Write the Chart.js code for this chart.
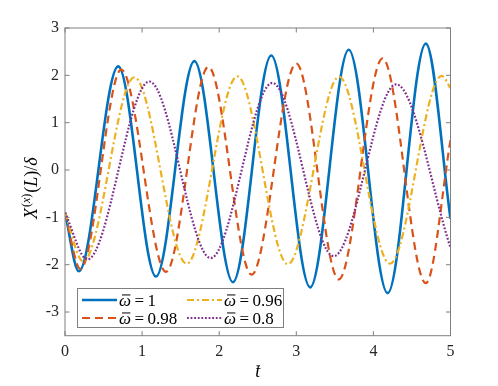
<!DOCTYPE html>
<html>
<head>
<meta charset="utf-8">
<script src="https://cdn.jsdelivr.net/npm/chart.js@4.4.1/dist/chart.umd.min.js"></script>
<style>
  html, body { margin: 0; padding: 0; background: #fff; }
</style>
</head>
<body>
<canvas id="chart" width="498" height="386"></canvas>
<script>
// values: start point, each peak / trough, end point
const tW100 = [0, 0.18, 0.69, 1.18, 1.678, 2.178, 2.675, 3.18, 3.68, 4.185, 4.68, 5];
const yW100 = [-0.9, -2.14, 2.19, -2.25, 2.30, -2.37, 2.42, -2.48, 2.54, -2.60, 2.67, -1.03];

const tW098 = [0, 0.2, 0.73, 1.31, 1.86, 2.42, 3.0, 3.55, 4.12, 4.68, 5];
const yW098 = [-0.9, -2.09, 2.12, -2.15, 2.18, -2.21, 2.25, -2.31, 2.36, -2.39, 0.63];

const tW096 = [0, 0.235, 0.9, 1.578, 2.235, 2.89, 3.555, 4.215, 4.885, 5];
const yW096 = [-0.9, -1.93, 1.96, -1.98, 1.98, -1.99, 1.97, -1.98, 1.99, 1.73];

const tW080 = [0, 0.29, 1.094, 1.89, 2.69, 3.485, 4.295, 5];
const yW080 = [-0.9, -1.89, 1.87, -1.86, 1.84, -1.82, 1.81, -1.64];

const omegaLabels = ['1', '0.98', '0.96', '0.8'];
const xTicks = [0, 1, 2, 3, 4, 5];
const yTicks = [-3, -2, -1, 0, 1, 2, 3];

const colors = ['#0072BD', '#D95319', '#EDB120', '#7E2F8E'];
const dashes = [[], [8, 5], [7, 3, 2, 3], [1.8, 1.8]];
const widths = [2.6, 2.2, 2.2, 2.2];

const series = [[tW100, yW100], [tW098, yW098], [tW096, yW096], [tW080, yW080]];
const serif = '"Liberation Serif", "DejaVu Serif", serif';
const inkColor = '#262626';
const frameColor = '#7f7f7f';

const datasets = series.map(([ts, ys], i) => ({
  label: omegaLabels[i],
  data: ts.map((t, k) => ({ x: t, y: ys[k] })),
  borderColor: colors[i],
  borderWidth: widths[i],
  borderDash: dashes[i],
  borderCapStyle: 'butt',
  pointRadius: 0,
  fill: false,
  cubicInterpolationMode: 'monotone',
  order: 4 - i
}));

// draw a letter with a hand-drawn bar over it, returns width used
function drawBarred(ctx, ch, x, y, size) {
  ctx.font = 'italic ' + size + 'px ' + serif;
  const w = ctx.measureText(ch).width;
  ctx.fillText(ch, x, y);
  ctx.save();
  ctx.lineWidth = 1;
  ctx.strokeStyle = ctx.fillStyle;
  ctx.beginPath();
  ctx.moveTo(x + w * 0.25, y - size * 0.62);
  ctx.lineTo(x + w * 0.95, y - size * 0.62);
  ctx.stroke();
  ctx.restore();
  return w;
}

// MATLAB-style box with inward ticks on all four sides
const framePlugin = {
  id: 'frame',
  afterDatasetsDraw(chart) {
    const { ctx, chartArea: a, scales: { x, y } } = chart;
    ctx.save();
    ctx.strokeStyle = frameColor;
    ctx.lineWidth = 1;
    ctx.strokeRect(a.left, a.top, a.right - a.left, a.bottom - a.top);
    const tl = 4.5;
    ctx.beginPath();
    xTicks.forEach(v => {
      const px = x.getPixelForValue(v);
      ctx.moveTo(px, a.bottom); ctx.lineTo(px, a.bottom - tl);
      ctx.moveTo(px, a.top); ctx.lineTo(px, a.top + tl);
    });
    yTicks.forEach(v => {
      const py = y.getPixelForValue(v);
      ctx.moveTo(a.left, py); ctx.lineTo(a.left + tl, py);
      ctx.moveTo(a.right, py); ctx.lineTo(a.right - tl, py);
    });
    ctx.stroke();
    ctx.restore();
  }
};

// legend box, axis titles
const textPlugin = {
  id: 'texts',
  afterDraw(chart) {
    const { ctx, chartArea: a } = chart;
    ctx.save();

    // legend, two columns filled top to bottom
    const box = { x: 77.5, y: 288.5, w: 206, h: 39 };
    ctx.fillStyle = '#fff';
    ctx.fillRect(box.x, box.y, box.w, box.h);
    ctx.strokeStyle = frameColor;
    ctx.lineWidth = 1;
    ctx.strokeRect(box.x, box.y, box.w, box.h);
    const cols = [82, 187];
    const rows = [300, 318];
    datasets.forEach((ds, i) => {
      const lx = cols[i < 2 ? 0 : 1], ly = rows[i % 2];
      ctx.save();
      ctx.strokeStyle = ds.borderColor;
      ctx.lineWidth = ds.borderWidth;
      ctx.setLineDash(ds.borderDash);
      ctx.beginPath();
      ctx.moveTo(lx, ly); ctx.lineTo(lx + 35, ly);
      ctx.stroke();
      ctx.restore();
      ctx.fillStyle = '#000';
      ctx.textBaseline = 'alphabetic';
      const base = ly + 5.5;
      let tx = lx + 37;
      tx += drawBarred(ctx, 'ω', tx, base, 17) + 3.5;
      ctx.font = '17px ' + serif;
      ctx.fillText('=', tx, base);
      tx += ctx.measureText('=').width + 3.5;
      ctx.fillText(ds.label, tx, base);
    });

    // y axis title: X^(x)(L)/δ
    ctx.save();
    ctx.translate(37, 219);
    ctx.rotate(-Math.PI / 2);
    ctx.fillStyle = '#000';
    let px = 0;
    const part = (txt, font, dy) => {
      ctx.font = font;
      ctx.fillText(txt, px, dy || 0);
      px += ctx.measureText(txt).width;
    };
    part('X', 'italic 18px ' + serif);
    px += 1;
    part('(', '12px ' + serif, -7);
    part('x', 'italic 12px ' + serif, -7);
    part(')', '12px ' + serif, -7);
    px += 1;
    part('(', '18px ' + serif);
    part('L', 'italic 18px ' + serif);
    part(')/', '18px ' + serif);
    part('δ', 'italic 18px ' + serif);
    ctx.restore();

    // x axis title: t̄
    ctx.fillStyle = '#000';
    ctx.font = 'italic 18px ' + serif;
    const tw = ctx.measureText('t').width;
    const cx = (a.left + a.right) / 2;
    drawBarred(ctx, 't', cx - tw / 2, 377, 18);

    ctx.restore();
  }
};

const tickFont = { family: serif, size: 16 };

new Chart(document.getElementById('chart'), {
  type: 'line',
  data: { datasets },
  options: {
    responsive: false,
    animation: false,
    devicePixelRatio: 1,
    layout: { padding: { top: 28, right: 47.5, left: 0, bottom: 0 } },
    plugins: { legend: { display: false }, tooltip: { enabled: false } },
    scales: {
      x: {
        type: 'linear',
        min: 0,
        max: 5,
        afterBuildTicks: s => { s.ticks = xTicks.map(v => ({ value: v })); },
        afterFit: s => { s.height = 50.3; },
        grid: { display: false, drawTicks: false },
        border: { display: false },
        ticks: { font: tickFont, color: inkColor, padding: 6, maxRotation: 0, autoSkip: false }
      },
      y: {
        min: -3.5,
        max: 3,
        afterBuildTicks: s => { s.ticks = yTicks.map(v => ({ value: v })); },
        afterFit: s => { s.width = 65; },
        grid: { display: false, drawTicks: false },
        border: { display: false },
        ticks: { font: tickFont, color: inkColor, padding: 6, autoSkip: false }
      }
    }
  },
  plugins: [framePlugin, textPlugin]
});
</script>
</body>
</html>
